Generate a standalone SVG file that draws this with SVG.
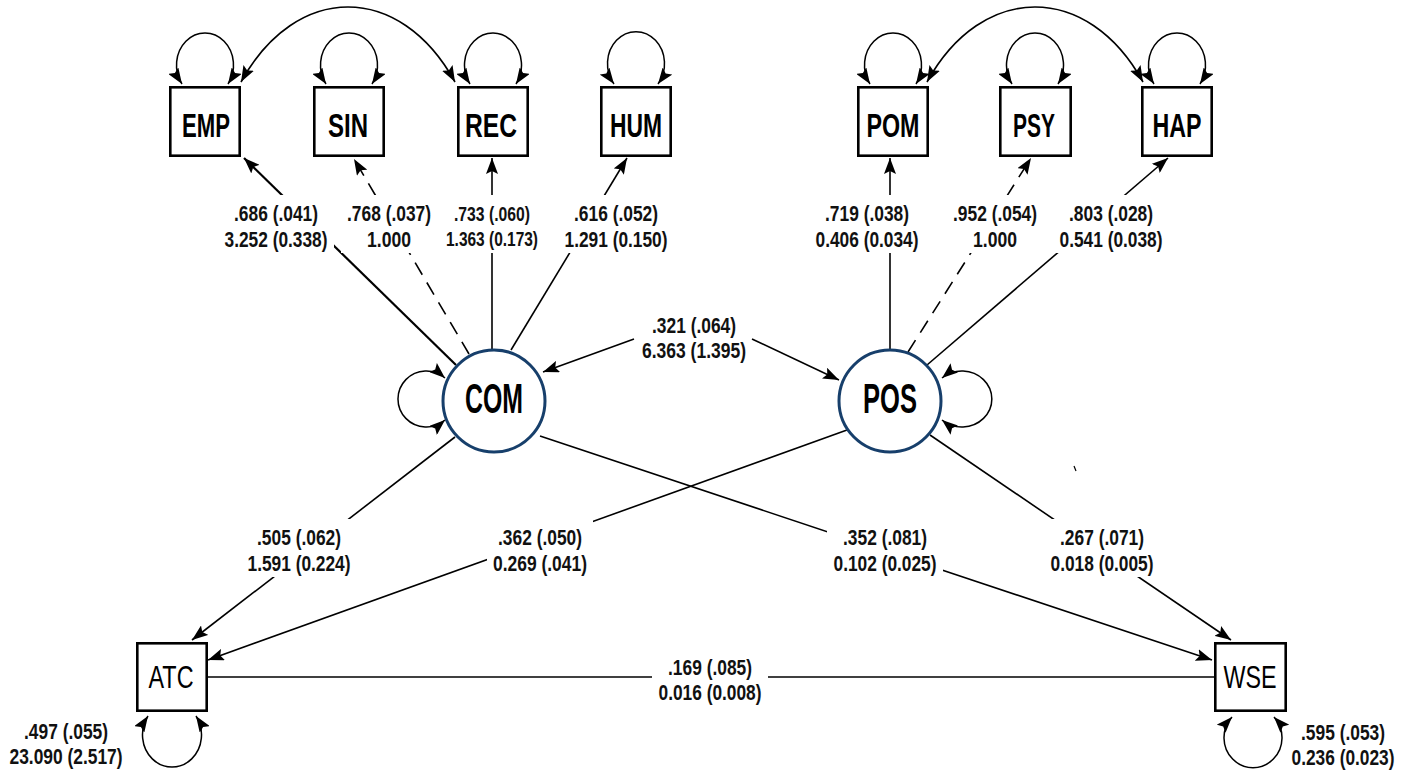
<svg xmlns="http://www.w3.org/2000/svg" width="1413" height="774" viewBox="0 0 1413 774">
  <style>
    .box { fill: #fff; stroke: #000; stroke-width: 2.6; }
    .lat { fill: #fff; stroke: #173f6b; stroke-width: 3; }
    .ind { font-family: "Liberation Sans", Arial, sans-serif; font-weight: bold; font-size: 34px; text-anchor: middle; fill: #000; }
    .obs { font-family: "Liberation Sans", Arial, sans-serif; font-size: 32px; text-anchor: middle; fill: #000; }
    .latt { font-family: "Liberation Sans", Arial, sans-serif; font-weight: bold; font-size: 42px; text-anchor: middle; fill: #000; }
    .lbl { font-family: "Liberation Sans", Arial, sans-serif; font-weight: bold; font-size: 22px; text-anchor: middle; fill: #111; }
    .lbl.sm { font-size: 20px; }
    .bg { fill: #fff; stroke: none; }
    .edge { fill: none; stroke: #000; stroke-width: 1.6; }
    .arr { marker-end: url(#ah); }
    .dbl { marker-start: url(#ah); marker-end: url(#ah); }
    .loop { fill: none; stroke: #000; stroke-width: 1.5; marker-start: url(#ahs); marker-end: url(#ahs); }
    .dash { stroke-dasharray: 14 9; }
  </style>
  <defs>
    <marker id="ah" viewBox="0 0 16 12" refX="16" refY="6" markerWidth="16" markerHeight="12" markerUnits="userSpaceOnUse" orient="auto-start-reverse">
      <path d="M0,0 L16,6 L0,12 L3,6 z" fill="#000"/>
    </marker>
    <marker id="ahs" viewBox="0 0 16 12" refX="16" refY="6" markerWidth="16" markerHeight="12" markerUnits="userSpaceOnUse" orient="auto-start-reverse">
      <path d="M0,0 L16,6 L0,12 L3,6 z" fill="#000"/>
    </marker>
  </defs>
  <rect width="1413" height="774" fill="#fff"/>

  <!-- paths, loadings, covariances and variances -->
  <g id="connectors">
    <!-- COM loadings -->
    <line class="edge arr" x1="456" y1="365" x2="244" y2="158" style="stroke-width:2.2"/>
    <line class="edge arr dash" x1="469" y1="354" x2="354" y2="159"/>
    <line class="edge arr" x1="492" y1="349" x2="492" y2="158"/>
    <line class="edge arr" x1="511" y1="350" x2="627" y2="158"/>
    <!-- POS loadings -->
    <line class="edge arr" x1="890" y1="349" x2="890" y2="158"/>
    <line class="edge arr dash" x1="908" y1="352" x2="1031" y2="158"/>
    <line class="edge arr" x1="927" y1="365" x2="1168" y2="158"/>
    <!-- latent covariance -->
    <line class="edge arr" x1="634" y1="339" x2="543" y2="372"/>
    <line class="edge arr" x1="752" y1="339" x2="839" y2="380"/>
    <!-- structural paths -->
    <line class="edge arr" x1="455" y1="437" x2="192" y2="640"/>
    <line class="edge arr" x1="847" y1="430" x2="208" y2="660"/>
    <line class="edge arr" x1="540" y1="436" x2="1212" y2="660"/>
    <line class="edge arr" x1="930" y1="435" x2="1231" y2="640"/>
    <!-- outcome correlation -->
    <line class="edge" x1="208" y1="677" x2="1214" y2="677"/>
    <!-- error covariances -->
    <path class="edge dbl" d="M241,82 C296,-18 400,-18 455,82"/>
    <path class="edge dbl" d="M927,82 C982,-18 1088,-18 1143,82"/>
    <!-- indicator variances -->
    <path class="loop" d="M182,84 A28.5,32 0 1 1 228,84"/>
    <path class="loop" d="M326,84 A28.5,32 0 1 1 372,84"/>
    <path class="loop" d="M470,84 A28.5,32 0 1 1 516,84"/>
    <path class="loop" d="M614,84 A28.5,32 0 1 1 658,84"/>
    <path class="loop" d="M870,84 A28.5,32 0 1 1 916,84"/>
    <path class="loop" d="M1012,84 A28.5,32 0 1 1 1058,84"/>
    <path class="loop" d="M1154,84 A28.5,32 0 1 1 1200,84"/>
    <!-- latent variances -->
    <path class="loop" d="M445,378 A28.3,28 0 1 0 445,420"/>
    <path class="loop" d="M942,378 A30,28 0 1 1 942,420"/>
    <!-- residual variances -->
    <path class="loop" d="M148,716 A29.5,32.3 0 1 0 196,716"/>
    <path class="loop" d="M1232,717 A29,30 0 1 0 1274,717"/>
    <line x1="1074" y1="466" x2="1076" y2="471" stroke="#000" stroke-width="1.2"/>
  </g>

  <!-- estimate labels -->
  <g id="labels">
    <rect class="bg" x="218" y="195" width="116" height="58"/>
    <text class="lbl" x="276" y="221" textLength="84" lengthAdjust="spacingAndGlyphs">.686 (.041)</text>
    <text class="lbl" x="276" y="247" textLength="103" lengthAdjust="spacingAndGlyphs">3.252 (0.338)</text>

    <rect class="bg" x="341" y="195" width="96" height="58"/>
    <text class="lbl" x="389" y="221" textLength="84" lengthAdjust="spacingAndGlyphs">.768 (.037)</text>
    <text class="lbl" x="389" y="247" textLength="44" lengthAdjust="spacingAndGlyphs">1.000</text>

    <rect class="bg" x="440" y="195" width="104" height="58"/>
    <text class="lbl sm" x="492" y="221" textLength="76" lengthAdjust="spacingAndGlyphs">.733 (.060)</text>
    <text class="lbl sm" x="492" y="246" textLength="92" lengthAdjust="spacingAndGlyphs">1.363 (0.173)</text>

    <rect class="bg" x="558" y="195" width="116" height="58"/>
    <text class="lbl" x="616" y="221" textLength="84" lengthAdjust="spacingAndGlyphs">.616 (.052)</text>
    <text class="lbl" x="616" y="247" textLength="103" lengthAdjust="spacingAndGlyphs">1.291 (0.150)</text>

    <rect class="bg" x="809" y="195" width="116" height="58"/>
    <text class="lbl" x="867" y="221" textLength="84" lengthAdjust="spacingAndGlyphs">.719 (.038)</text>
    <text class="lbl" x="867" y="247" textLength="103" lengthAdjust="spacingAndGlyphs">0.406 (0.034)</text>

    <rect class="bg" x="947" y="195" width="96" height="58"/>
    <text class="lbl" x="995" y="221" textLength="84" lengthAdjust="spacingAndGlyphs">.952 (.054)</text>
    <text class="lbl" x="995" y="247" textLength="44" lengthAdjust="spacingAndGlyphs">1.000</text>

    <rect class="bg" x="1053" y="195" width="116" height="58"/>
    <text class="lbl" x="1111" y="221" textLength="84" lengthAdjust="spacingAndGlyphs">.803 (.028)</text>
    <text class="lbl" x="1111" y="247" textLength="103" lengthAdjust="spacingAndGlyphs">0.541 (0.038)</text>

    <text class="lbl" x="694" y="333" textLength="84" lengthAdjust="spacingAndGlyphs">.321 (.064)</text>
    <text class="lbl" x="694" y="358" textLength="104" lengthAdjust="spacingAndGlyphs">6.363 (1.395)</text>

    <rect class="bg" x="241" y="519" width="116" height="58"/>
    <text class="lbl" x="299" y="545" textLength="84" lengthAdjust="spacingAndGlyphs">.505 (.062)</text>
    <text class="lbl" x="299" y="571" textLength="103" lengthAdjust="spacingAndGlyphs">1.591 (0.224)</text>

    <rect class="bg" x="487" y="519" width="106" height="58"/>
    <text class="lbl" x="540" y="545" textLength="84" lengthAdjust="spacingAndGlyphs">.362 (.050)</text>
    <text class="lbl" x="540" y="571" textLength="94" lengthAdjust="spacingAndGlyphs">0.269 (.041)</text>

    <rect class="bg" x="827" y="519" width="116" height="58"/>
    <text class="lbl" x="885" y="545" textLength="84" lengthAdjust="spacingAndGlyphs">.352 (.081)</text>
    <text class="lbl" x="885" y="571" textLength="103" lengthAdjust="spacingAndGlyphs">0.102 (0.025)</text>

    <rect class="bg" x="1044" y="519" width="116" height="58"/>
    <text class="lbl" x="1102" y="545" textLength="84" lengthAdjust="spacingAndGlyphs">.267 (.071)</text>
    <text class="lbl" x="1102" y="571" textLength="103" lengthAdjust="spacingAndGlyphs">0.018 (0.005)</text>

    <rect class="bg" x="652" y="649" width="116" height="58"/>
    <text class="lbl" x="710" y="675" textLength="84" lengthAdjust="spacingAndGlyphs">.169 (.085)</text>
    <text class="lbl" x="710" y="700" textLength="103" lengthAdjust="spacingAndGlyphs">0.016 (0.008)</text>

    <text class="lbl" x="66" y="739" textLength="84" lengthAdjust="spacingAndGlyphs">.497 (.055)</text>
    <text class="lbl" x="66" y="764" textLength="113" lengthAdjust="spacingAndGlyphs">23.090 (2.517)</text>

    <text class="lbl" x="1343" y="740" textLength="84" lengthAdjust="spacingAndGlyphs">.595 (.053)</text>
    <text class="lbl" x="1343" y="765" textLength="103" lengthAdjust="spacingAndGlyphs">0.236 (0.023)</text>
  </g>

  <!-- indicators -->
  <g id="EMP"><rect class="box" x="170.3" y="87.3" width="69.4" height="68.4"/><text class="ind" x="206" y="137" textLength="48" lengthAdjust="spacingAndGlyphs">EMP</text></g>
  <g id="SIN"><rect class="box" x="314.3" y="87.3" width="69.4" height="68.4"/><text class="ind" x="348" y="137" textLength="40" lengthAdjust="spacingAndGlyphs">SIN</text></g>
  <g id="REC"><rect class="box" x="458.3" y="87.3" width="69.4" height="68.4"/><text class="ind" x="491" y="137" textLength="52" lengthAdjust="spacingAndGlyphs">REC</text></g>
  <g id="HUM"><rect class="box" x="601.3" y="87.3" width="69.4" height="68.4"/><text class="ind" x="636" y="137" textLength="52" lengthAdjust="spacingAndGlyphs">HUM</text></g>
  <g id="POM"><rect class="box" x="858.3" y="87.3" width="69.4" height="68.4"/><text class="ind" x="893" y="137" textLength="53" lengthAdjust="spacingAndGlyphs">POM</text></g>
  <g id="PSY"><rect class="box" x="1000.3" y="87.3" width="70.4" height="68.4"/><text class="ind" x="1034" y="137" textLength="42" lengthAdjust="spacingAndGlyphs">PSY</text></g>
  <g id="HAP"><rect class="box" x="1142.3" y="87.3" width="69.4" height="68.4"/><text class="ind" x="1177" y="137" textLength="49" lengthAdjust="spacingAndGlyphs">HAP</text></g>

  <!-- latent factors -->
  <g id="COM"><circle class="lat" cx="494" cy="401" r="51"/><text class="latt" x="494" y="413" textLength="58" lengthAdjust="spacingAndGlyphs">COM</text></g>
  <g id="POS"><circle class="lat" cx="890" cy="401" r="51"/><text class="latt" x="890" y="413" textLength="54" lengthAdjust="spacingAndGlyphs">POS</text></g>

  <!-- outcomes -->
  <g id="ATC"><rect class="box" x="137.3" y="643.3" width="69.4" height="67.4"/><text class="obs" x="171" y="688" textLength="45" lengthAdjust="spacingAndGlyphs">ATC</text></g>
  <g id="WSE"><rect class="box" x="1215.3" y="643.3" width="70.4" height="67.4"/><text class="obs" x="1250" y="688" textLength="53" lengthAdjust="spacingAndGlyphs">WSE</text></g>
</svg>
